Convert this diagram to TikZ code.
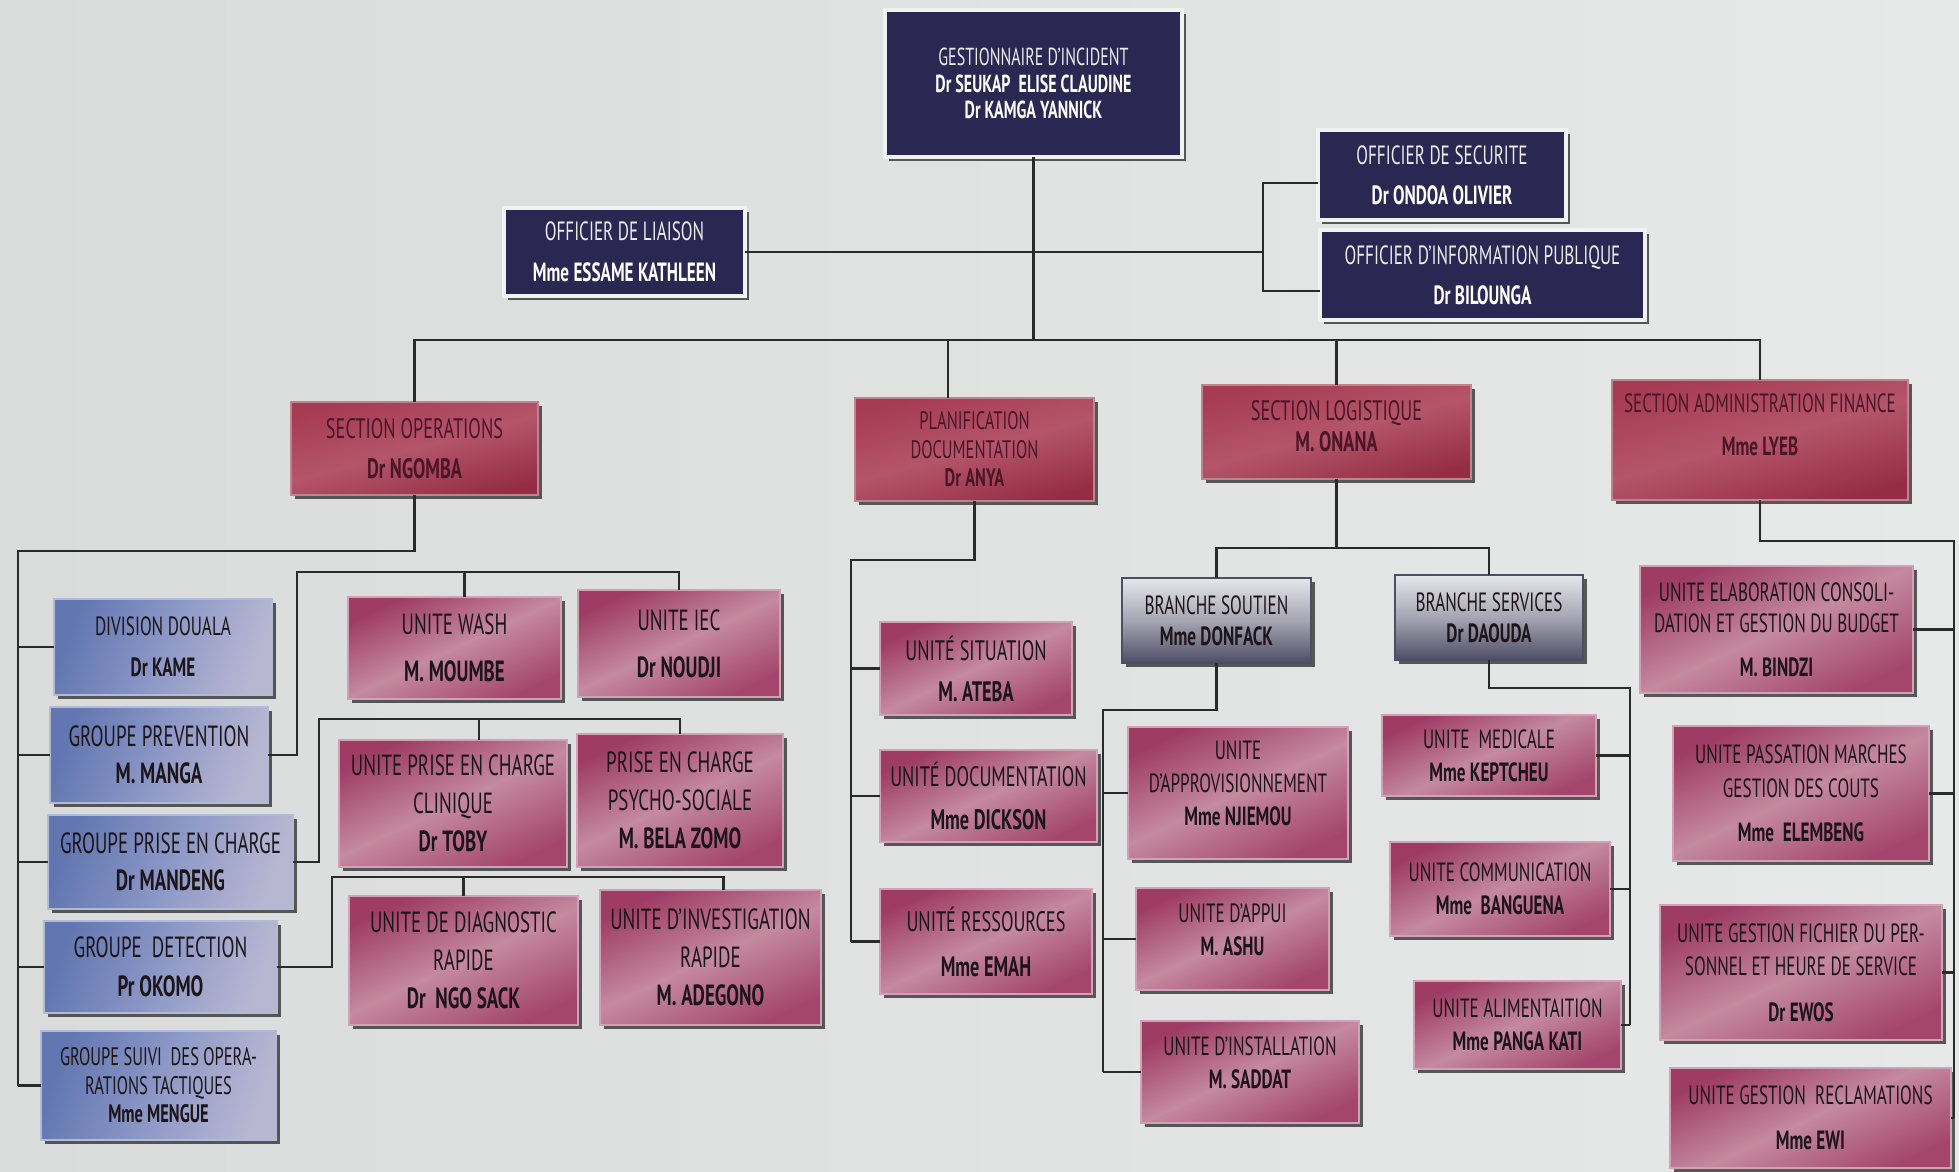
\documentclass[tikz,border=0pt]{standalone}
\usepackage{fontspec}
\usepackage{graphicx}
\setmainfont{PT Sans}[FakeStretch=0.65]
\usetikzlibrary{shadows}
\definecolor{bgL}{HTML}{D9DCDB}
\definecolor{bgR}{HTML}{E7E9E8}
\definecolor{navyC}{HTML}{2A2852}
\definecolor{secD}{HTML}{A63C54}
\definecolor{secM}{HTML}{B4556A}
\definecolor{secB}{HTML}{952E45}
\definecolor{secT}{HTML}{4A1626}
\definecolor{pkD}{HTML}{9E3C63}
\definecolor{pkM}{HTML}{C48A9E}
\definecolor{pkB}{HTML}{A4466B}
\definecolor{bluD}{HTML}{6277B1}
\definecolor{bluM}{HTML}{8C98C6}
\definecolor{bluR}{HTML}{B8B7D2}
\definecolor{gryT}{HTML}{E6E6EC}
\definecolor{gryM}{HTML}{A5A5B3}
\definecolor{gryB}{HTML}{4E4D65}
\definecolor{txtC}{HTML}{1C1418}
\definecolor{lineC}{HTML}{2A2A2A}
\newcommand\nm[1]{{\bfseries #1}}
\newcommand\bx[7]{\node[#2, minimum width={(#5-#3)*0.01cm}, minimum height={(#6-#4)*0.01cm}] (#1) at ({(#3+#5)/2},{(#4+#6)/2}) {#7};}
\tikzset{
  box/.style={rectangle, align=center, inner sep=1pt, outer sep=0pt, line width=0.5pt,
    drop shadow={shadow xshift=1.2pt, shadow yshift=-1.2pt, fill=black!80, opacity=0.8}},
  navy/.style={box, fill=navyC, draw=white!90!gray, line width=1.2pt, text=white},
  sect/.style={box, draw=secB!60!white, top color=secD, bottom color=secB, middle color=secM, shading angle=15, text=secT},
  unit/.style={box, draw=pkB!50!white, top color=pkD, bottom color=pkB, middle color=pkM, shading angle=25, text=txtC},
  blu/.style={box, draw=bluD!50!white, left color=bluD, right color=bluR, middle color=bluM, shading angle=70, text=txtC},
  gry/.style={box, draw=gryB, top color=gryT, bottom color=gryB, middle color=gryM, text=txtC},
  conn/.style={draw=lineC, line width=0.65pt},
  f70/.style={font=\fontsize{7}{7.6}\selectfont},
  f72/.style={font=\fontsize{7.2}{8.1}\selectfont},
  f75/.style={font=\fontsize{7.5}{9.4}\selectfont},
  f80/.style={font=\fontsize{8}{9.6}\selectfont},
  f83/.style={font=\fontsize{8.3}{10.5}\selectfont},
  f83w/.style={font=\fontsize{8.3}{9.9}\selectfont},
  f83t/.style={font=\fontsize{8.3}{10.8}\selectfont},
}
\begin{document}
\begin{tikzpicture}[x=0.01cm, y=-0.01cm]
\useasboundingbox (0,0) rectangle (1959,1172);
\clip (0,0) rectangle (1959,1172);
\fill[left color=bgL, right color=bgR] (0,0) rectangle (1959,1172);

% top level
\bx{gest}{navy,f70}{885}{10}{1182}{157}{{\color{white!85!gray}GESTIONNAIRE D'INCIDENT}\\\nm{Dr SEUKAP\ \ ELISE CLAUDINE}\\\nm{Dr KAMGA YANNICK}}
\bx{liai}{navy,f75}{504}{208}{745}{296}{{\color{white!85!gray}OFFICIER DE LIAISON}\\[2.3pt]\nm{Mme ESSAME KATHLEEN}}
\bx{secu}{navy,f75}{1318}{130}{1566}{220}{{\color{white!85!gray}OFFICIER DE SECURITE}\\[2pt]\nm{Dr ONDOA OLIVIER}}
\bx{info}{navy,f75}{1320}{230}{1645}{320}{{\color{white!85!gray}OFFICIER D'INFORMATION PUBLIQUE}\\[2pt]\nm{Dr BILOUNGA}}

% sections
\bx{ops}{sect,f80}{291}{402}{538}{495}{SECTION OPERATIONS\\[1.8pt]\nm{Dr NGOMBA}}
\bx{plan}{sect,f72}{855}{398}{1094}{501}{PLANIFICATION\\DOCUMENTATION\\\nm{Dr ANYA}}
\bx{log}{sect,f80}{1202}{385}{1471}{479}{SECTION LOGISTIQUE\\[-0.7pt]\nm{M. ONANA}\\[-6pt]\mbox{}}
\bx{adm}{sect,f75}{1612}{380}{1908}{500}{SECTION ADMINISTRATION FINANCE\\[2.8pt]\nm{Mme LYEB}\\[-0.8pt]\mbox{}}

% operations groups
\bx{g1}{blu,f75}{54}{599}{272}{695}{DIVISION DOUALA\\[2.3pt]\nm{Dr KAME}}
\bx{g2}{blu,f83}{50}{707}{268}{803}{GROUPE PREVENTION\\\nm{M. MANGA}}
\bx{g3}{blu,f83}{48}{815}{293}{909}{GROUPE PRISE EN CHARGE\\\nm{Dr MANDENG}}
\bx{g4}{blu,f83}{44}{921}{277}{1013}{GROUPE\ \ DETECTION\\[0.6pt]\nm{Pr OKOMO}}
\bx{g5}{blu,f72}{41}{1031}{276}{1140}{GROUPE SUIVI\ \ DES OPERA-\\RATIONS TACTIQUES\\\nm{Mme MENGUE}}

% operations units
\bx{wash}{unit,f83w}{348}{597}{561}{699}{UNITE WASH\\[3.5pt]\nm{M. MOUMBE}}
\bx{iec}{unit,f83w}{578}{590}{780}{697}{UNITE IEC\\[3.5pt]\nm{Dr NOUDJI}}
\bx{clin}{unit,f83t}{339}{740}{567}{867}{UNITE PRISE EN CHARGE\\CLINIQUE\\\nm{Dr TOBY}}
\bx{psy}{unit,f83t}{577}{734}{783}{867}{PRISE EN CHARGE\\PSYCHO-SOCIALE\\\nm{M. BELA ZOMO}}
\bx{diag}{unit,f83t}{349}{896}{578}{1025}{UNITE DE DIAGNOSTIC\\RAPIDE\\\nm{Dr\ \ NGO SACK}}
\bx{inv}{unit,f83t}{600}{890}{821}{1025}{UNITE D'INVESTIGATION\\RAPIDE\\\nm{M. ADEGONO}}

% planification units
\bx{sit}{unit,f80}{880}{622}{1072}{715}{UNITÉ SITUATION\\[2.1pt]\nm{M. ATEBA}}
\bx{doc}{unit,f80}{880}{750}{1097}{842}{UNITÉ DOCUMENTATION\\[2.6pt]\nm{Mme DICKSON}}
\bx{res}{unit,f80}{880}{889}{1092}{994}{UNITÉ RESSOURCES\\[3.2pt]\nm{Mme EMAH}}

% logistique
\bx{sout}{gry,f75}{1122}{578}{1311}{663}{BRANCHE SOUTIEN\\[-0.6pt]\nm{Mme DONFACK}}
\bx{serv}{gry,f75}{1395}{575}{1583}{660}{BRANCHE SERVICES\\[-0.6pt]\nm{Dr DAOUDA}}
\bx{appro}{unit,f75}{1128}{727}{1348}{859}{UNITE\\D'APPROVISIONNEMENT\\\nm{Mme NJIEMOU}\\[-3.8pt]\mbox{}}
\bx{appui}{unit,f75}{1136}{888}{1329}{990}{UNITE D'APPUI\\\nm{M. ASHU}\\[-3.8pt]\mbox{}}
\bx{inst}{unit,f75}{1141}{1021}{1359}{1123}{UNITE D'INSTALLATION\\\nm{M. SADDAT}\\[-3.8pt]\mbox{}}
\bx{med}{unit,f75}{1382}{715}{1596}{796}{UNITE\ \ MEDICALE\\\nm{Mme KEPTCHEU}}
\bx{com}{unit,f75}{1390}{842}{1610}{936}{UNITE COMMUNICATION\\\nm{Mme\ \ BANGUENA}}
\bx{alim}{unit,f75}{1414}{981}{1621}{1069}{UNITE ALIMENTAITION\\\nm{Mme PANGA KATI}}

% administration finance
\bx{elab}{unit,f75}{1640}{566}{1913}{693}{UNITE ELABORATION CONSOLI-\\[-0.6pt]DATION ET GESTION DU BUDGET\\[3.1pt]\nm{M. BINDZI}}
\bx{pass}{unit,f75}{1673}{726}{1929}{861}{UNITE PASSATION MARCHES\\[0.3pt]GESTION DES COUTS\\[3.1pt]\nm{Mme\ \ ELEMBENG}}
\bx{fich}{unit,f75}{1660}{905}{1942}{1040}{UNITE GESTION FICHIER DU PER-\\SONNEL ET HEURE DE SERVICE\\[3.7pt]\nm{Dr EWOS}}
\bx{recl}{unit,f75}{1670}{1068}{1951}{1168}{UNITE GESTION\ \ RECLAMATIONS\\[3.4pt]\nm{Mme EWI}}

% ---- connectors ----
\coordinate (bus) at (0,340);
\coordinate (planT) at ([xshift=-0.265cm]plan.north);
\draw[conn] (ops.north) -- (ops.north |- bus) -- (adm.north |- bus) -- (adm.north);
\draw[conn] (gest.south) -- (gest.south |- bus);
\draw[conn] (planT) -- (planT |- bus);
\draw[conn] (log.north) -- (log.north |- bus);

\coordinate (brx) at (1263,0);
\coordinate (sA) at ([yshift=-0.08cm]secu.west);
\coordinate (iA) at ([yshift=-0.16cm]info.west);
\draw[conn] (sA) -- (sA -| brx) -- (iA -| brx) -- (iA);
\draw[conn] (liai.east) -- (liai.east -| brx);

% operations
\coordinate (opsL) at (18,551);
\draw[conn] (ops.south) -- (ops.south |- opsL) -- (opsL) -- (opsL |- g5.west);
\foreach \g in {g1,g2,g3,g4,g5} \draw[conn] (\g.west) -- (\g.west -| opsL);

\coordinate (b1) at (297,572);
\coordinate (washT) at ([xshift=0.1cm]wash.north);
\draw[conn] (g2.east) -- (g2.east -| b1) -- (b1) -- (b1 -| iec.north) -- (iec.north);
\draw[conn] (washT) -- (washT |- b1);

\coordinate (b2) at (319,719);
\coordinate (clT) at ([xshift=0.26cm]clin.north);
\draw[conn] (g3.east) -- (g3.east -| b2) -- (b2) -- (b2 -| psy.north) -- (psy.north);
\draw[conn] (clT) -- (clT |- b2);

\coordinate (b3) at (332,877);
\coordinate (invT) at ([xshift=0.13cm]inv.north);
\draw[conn] (g4.east) -- (g4.east -| b3) -- (b3) -- (b3 -| invT) -- (invT);
\draw[conn] (diag.north) -- (diag.north |- b3);

% planification
\coordinate (pL) at (851,560);
\draw[conn] (plan.south) -- (plan.south |- pL) -- (pL) -- (pL |- res.west);
\foreach \u in {sit,doc,res} \draw[conn] (\u.west) -- (\u.west -| pL);

% logistique
\coordinate (lB) at (0,548);
\draw[conn] (log.south) -- (log.south |- lB);
\draw[conn] (sout.north) -- (sout.north |- lB) -- (serv.north |- lB) -- (serv.north);

\coordinate (sL) at (1103,710);
\draw[conn] (sout.south) -- (sout.south |- sL) -- (sL) -- (sL |- inst.west);
\foreach \u in {appro,appui,inst} \draw[conn] (\u.west) -- (\u.west -| sL);

\coordinate (svR) at (1630,688);
\draw[conn] (serv.south) -- (serv.south |- svR) -- (svR) -- (svR |- alim.east);
\foreach \u in {med,com,alim} \draw[conn] (\u.east) -- (\u.east -| svR);

% administration
\coordinate (aR) at (1954,541);
\draw[conn] (adm.south) -- (adm.south |- aR) -- (aR) -- (aR |- recl.east);
\foreach \u in {elab,pass,fich,recl} \draw[conn] (\u.east) -- (\u.east -| aR);
\end{tikzpicture}
\end{document}
